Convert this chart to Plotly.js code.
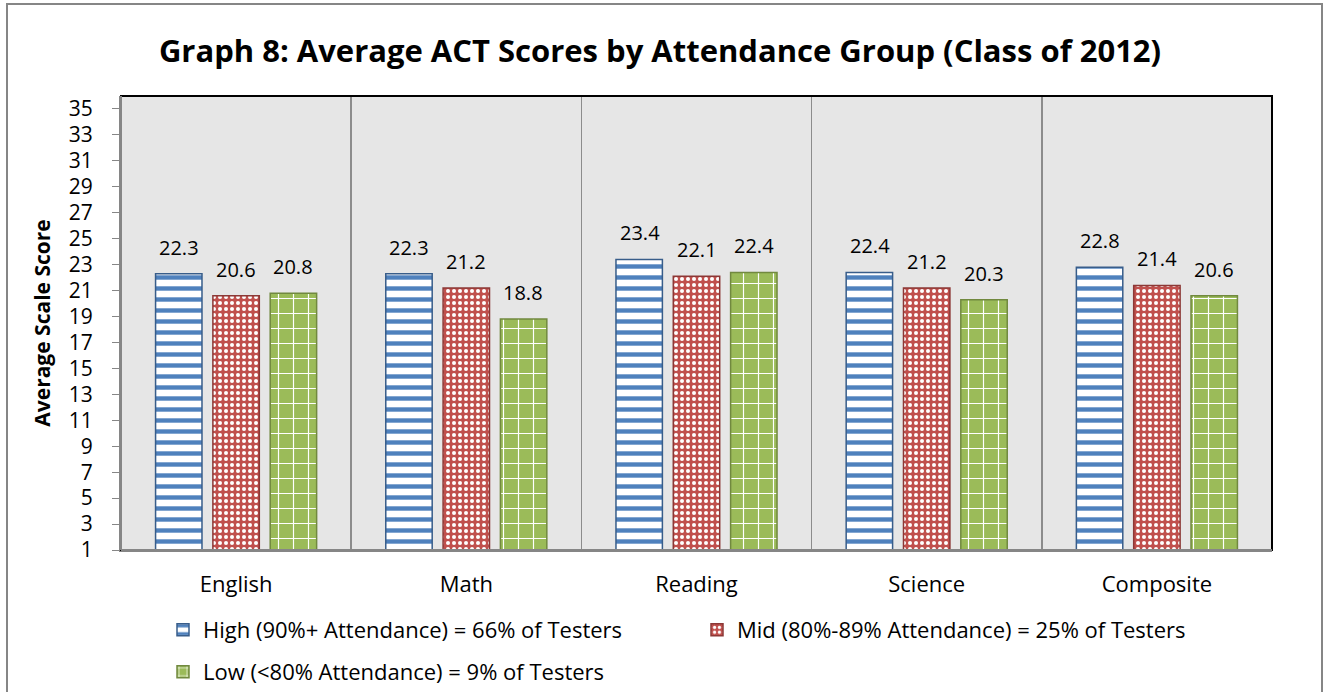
<!DOCTYPE html>
<html>
<head>
<meta charset="utf-8">
<script src="https://cdn.plot.ly/plotly-3.0.1.min.js"></script>
<style>html,body{margin:0;padding:0;background:#fff;}#chart{width:1324px;height:692px;}</style>
</head>
<body>
<div id="chart"></div>
<script>
const categories = ["English", "Math", "Reading", "Science", "Composite"];
const seriesNames = [
  "High (90%+ Attendance) = 66% of Testers",
  "Mid (80%-89% Attendance) = 25% of Testers",
  "Low (<80% Attendance) = 9% of Testers"
];
const highValues = [22.3, 22.3, 23.4, 22.4, 22.8];
const midValues  = [20.6, 21.2, 22.1, 21.2, 21.4];
const lowValues  = [20.8, 18.8, 22.4, 20.3, 20.6];
const yTickValues = [1,3,5,7,9,11,13,15,17,19,21,23,25,27,29,31,33,35];

const FONT = "'Open Sans', 'Noto Sans', sans-serif";
const seriesValues = [highValues, midValues, lowValues];
const styles = [
  {pattern:{shape:"-", fgcolor:"#4F81BD", bgcolor:"#FFFFFF", size:11, solidity:0.4, fillmode:"replace"}, line:"#385D8A", legend:"legend"},
  {pattern:{shape:".", fgcolor:"#FFFFFF", bgcolor:"#C0504D", size:6, solidity:0.35, fillmode:"replace"}, line:"#8C3836", legend:"legend"},
  {pattern:{shape:"+", fgcolor:"#FFFFFF", bgcolor:"#9BBB59", size:15, solidity:0.15, fillmode:"replace"}, line:"#71893F", legend:"legend2"}
];

const traces = seriesValues.map((vals, i) => ({
  type: "bar",
  name: seriesNames[i],
  x: categories,
  y: vals,
  legend: styles[i].legend,
  marker: {color: styles[i].pattern.bgcolor, pattern: styles[i].pattern, line: {color: styles[i].line, width: 1.5}},
  hoverinfo: "skip"
}));

const offsets = [-57, 0, 57];
const annotations = [];
seriesValues.forEach((vals, i) => {
  vals.forEach((v, j) => {
    annotations.push({
      x: categories[j], y: v, xref: "x", yref: "y",
      text: v.toFixed(1), showarrow: false,
      xshift: offsets[i], yanchor: "bottom", yshift: 11,
      font: {family: FONT, size: 20, color: "#000"}
    });
  });
});

const L = 121, R = 1272, T = 96, B = 550;
const pw = R - L, ph = B - T;
const px = v => (v - L) / pw;
const py = v => (B - v) / ph;

const layout = {
  width: 1324, height: 692,
  margin: {l: L, r: 1324 - R, t: T, b: 692 - B, pad: 0, autoexpand: false},
  paper_bgcolor: "#FFFFFF",
  plot_bgcolor: "#E6E6E6",
  font: {family: FONT, size: 20, color: "#000"},
  title: {text: "<b>Graph 8: Average ACT Scores by Attendance Group (Class of 2012)</b>",
    x: 0.4985, xanchor: "center", y: 1 - 51/692, yanchor: "middle",
    font: {family: FONT, size: 31, color: "#000"}},
  barmode: "group",
  bargap: 0.253,
  bargroupgap: 0.19,
  xaxis: {
    type: "category",
    tickson: "boundaries",
    showgrid: true, gridcolor: "#8C8C8C", gridwidth: 1.5,
    showline: true, linecolor: "#868686", linewidth: 2,
    ticks: "", tickfont: {family: FONT, size: 22},
    ticklabelstandoff: 14,
    zeroline: false, fixedrange: true
  },
  yaxis: {
    range: [1, 36],
    tickvals: yTickValues,
    ticks: "outside", ticklen: 7, tickcolor: "#868686", tickwidth: 1,
    ticklabelstandoff: 15,
    showgrid: false, zeroline: false,
    showline: true, linecolor: "#868686", linewidth: 2,
    tickfont: {family: FONT, size: 21},
    title: {text: "<b>Average Scale Score</b>", font: {family: FONT, size: 21}, standoff: 12},
    fixedrange: true
  },
  showlegend: true,
  legend: {orientation: "h", x: px(163), y: py(630), xanchor: "left", yanchor: "middle",
    entrywidth: 489, entrywidthmode: "pixels", font: {family: FONT, size: 22}, bgcolor: "rgba(0,0,0,0)", traceorder: "normal"},
  legend2: {orientation: "h", x: px(163), y: py(672), xanchor: "left", yanchor: "middle",
    font: {family: FONT, size: 22}, bgcolor: "rgba(0,0,0,0)"},
  annotations: annotations,
  shapes: [
    {type: "rect", xref: "paper", yref: "paper", x0: 0, x1: 1, y0: 0, y1: 1,
      line: {color: "#000", width: 2}, layer: "above"},
    {type: "line", xref: "paper", yref: "paper", x0: 0, x1: 0, y0: 0, y1: 1, line: {color: "#868686", width: 2}, layer: "above"},
    {type: "line", xref: "paper", yref: "paper", x0: 0, x1: 1, y0: 0, y1: 0, line: {color: "#868686", width: 2}, layer: "above"},
    {type: "rect", xref: "paper", yref: "paper", x0: px(7), x1: px(1322), y0: py(4), y1: py(700),
      line: {color: "#868686", width: 2}, layer: "below"}
  ]
};

Plotly.newPlot("chart", traces, layout, {staticPlot: true, displayModeBar: false});
</script>
</body>
</html>
